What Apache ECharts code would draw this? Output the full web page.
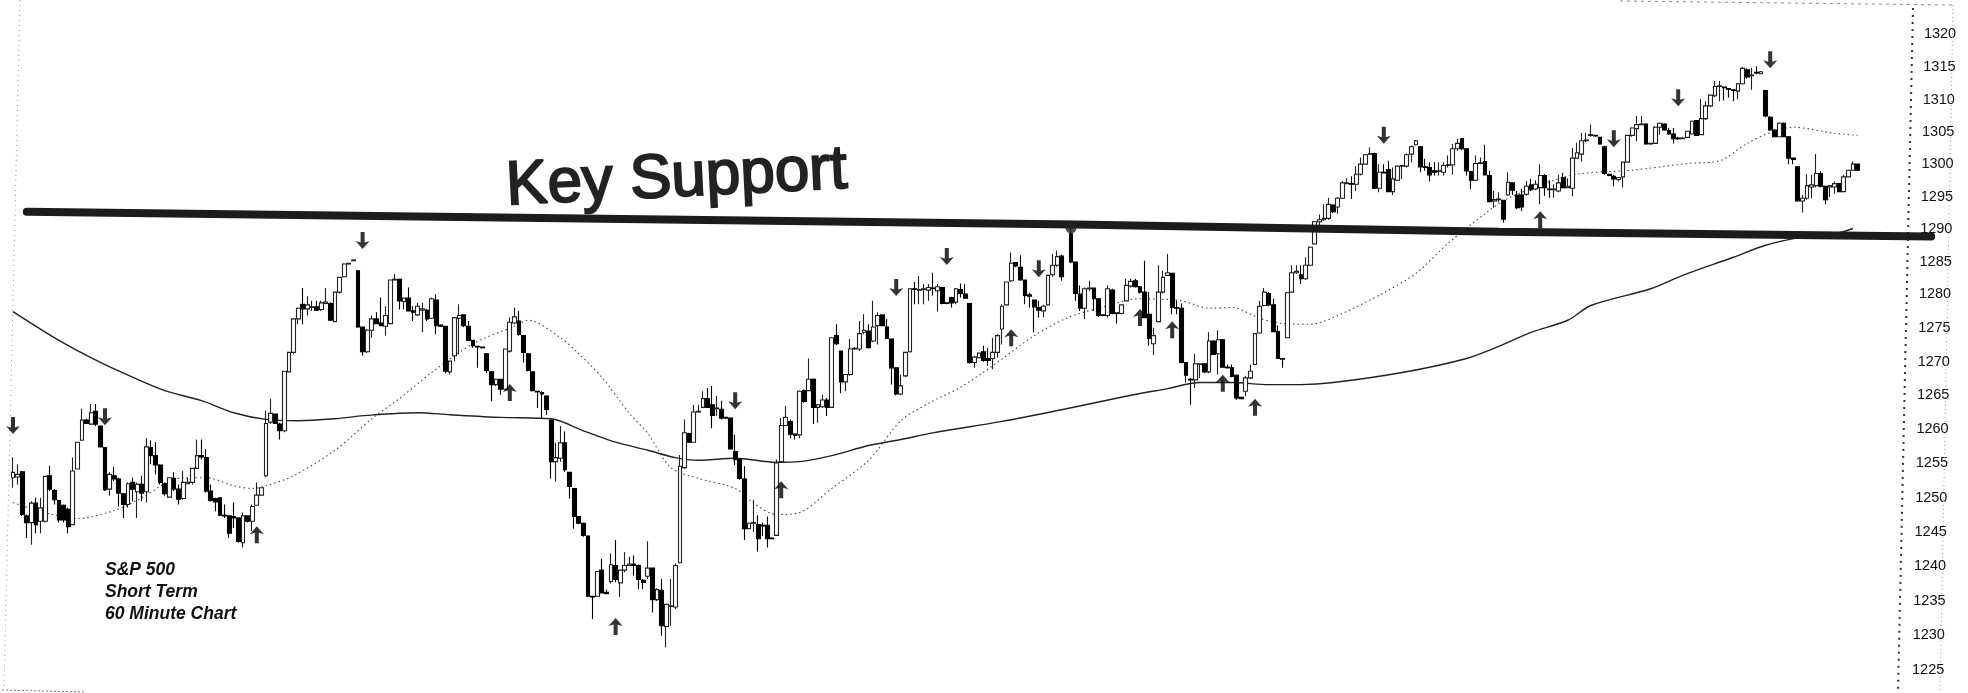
<!DOCTYPE html>
<html><head><meta charset="utf-8">
<style>html,body{margin:0;padding:0;background:#fff}#c{width:1968px;height:693px}</style>
<script src="https://cdn.jsdelivr.net/npm/echarts@6/dist/echarts.min.js"></script>
</head><body><div id="c"></div>
<script>
const opens=[1253.7,1253.8,1254.6,1248,1247,1249.9,1247.2,1247.2,1254,1251.8,
1250.3,1249.6,1249,1246.7,1255,1259.3,1262.3,1261.7,1263.6,1261.4,
1258.2,1252,1254,1253.5,1251.3,1249.7,1253,1251.6,1252.7,1251.6,
1258.2,1257,1255.6,1252.8,1250.8,1253.6,1252,1250.6,1252.8,1253,
1255.1,1257,1256.7,1251.7,1250.6,1250.7,1248.1,1248,1247.9,1247.7,
1244,1248,1247.2,1249.6,1251.1,1254,1262,1263.2,1261.7,1260.7,
1269.5,1272.4,1277.4,1279.6,1278.9,1279.1,1279.2,1278.8,1279.7,1279.7,
1277,1281.4,1283.7,1285.6,1286.1,1284.6,1276.2,1272.5,1275.7,1277.4,
1276.8,1276.3,1276.7,1283.2,1283.3,1280,1280.5,1278.6,1278,1278.7,
1278.7,1277.5,1280.2,1276.5,1276.3,1269.5,1271.9,1277.5,1278,1276.3,
1274.2,1273.3,1273.2,1272.2,1269.5,1267.6,1268.4,1266.9,1272.6,1276.8,
1277.1,1274.9,1272.2,1269.5,1266.6,1266.4,1265.9,1262.3,1256.1,1256.6,
1258.9,1254.5,1252.1,1247.9,1246.9,1245,1236,1236,1239.9,1236.6,
1238.2,1240.6,1238,1239.9,1240.6,1240.8,1240.6,1238.4,1239,1240.2,
1235.5,1236.9,1231.5,1234.5,1234.4,1241,1255.2,1260.3,1259,1263.5,
1264.2,1265.5,1264.6,1264,1263.9,1262.7,1262.6,1257.6,1256.4,1253.5,
1246.1,1246.9,1246.7,1246.6,1246.6,1244.7,1245.1,1256.1,1261.5,1262.1,
1260.2,1260.1,1266.7,1266.7,1268.4,1264.2,1264.3,1265.3,1264.2,1274.9,
1272.6,1268,1269.1,1272.9,1272.9,1275.4,1275.6,1274.1,1276.4,1278,
1276.2,1274.4,1270.1,1266.2,1268.9,1272.5,1281.9,1281.7,1281.8,1281.7,
1282,1281.6,1282.1,1279.8,1280.6,1279.9,1281.8,1281.1,1279.7,1270.9,
1271.6,1272.5,1271.5,1271.5,1272.4,1275.9,1279.5,1283.1,1285.8,1285.1,
1283.2,1281,1280.2,1279.1,1278.6,1279.5,1284,1285.4,1286.8,null,
1290.1,1285.9,1281.1,1279,1281.9,1282,1280.4,1278,1277.9,1281.7,
1278.3,1278.2,1280.1,1282.3,1283.1,1282.2,1281.4,1278.1,1273.7,1277,
1281.4,1283.9,1284.2,1279.1,1279,1270.9,1268.4,1268.3,1270.6,1270.7,
1269.5,1274.1,1272.2,1274.3,1270.2,1270.1,1269,1265.7,1266.6,1268.6,
1270.6,1275.3,1279.4,1281.2,1279.5,1275.5,1271.5,1274.6,1281.4,1284.3,
1284,1283.4,1285.4,1288.6,1291.9,1292.2,1292.4,1294.4,1294.1,1295.4,
1297.6,1297.6,1297.5,1299,1300.5,1302,1302.1,1296.9,1299.3,1299.7,
1296.4,1298.1,1300.2,1300.2,1302,1303.4,1303.1,1300.1,1300,1299.5,
1299.4,1299.3,1300.3,1300.4,1302.8,1304.3,1302.8,1299.4,1298.1,1300.6,
1300.9,1298.8,1295,1295.2,1295.1,1295.9,1297.7,1295.9,1295.9,1296,
1297.4,1296.8,1297,1298.8,1296.8,1296.7,1296.5,1298.5,1297,1296.9,
1301.4,1302,1304,1304.8,1304.8,1304.5,1303.1,1299,1298.7,1298.2,
1298.6,1300.8,1304.8,1305.8,1306.4,1306.5,1303.5,1303.6,1306,1306.5,
1305.5,1305,1304.4,1304.3,1304.5,1305,1307,1304.9,1307.3,1309.2,
1310.7,1312.1,1312,1311.8,1311.6,1311.4,1312.5,1314.6,1313.7,1314.2,
1314,1311.5,1307.5,1305.6,1304.6,1306.6,1304.6,1301.4,1300.1,1295,
1295.4,1297.1,1297.3,1299.1,1297.2,1297.1,1297.1,1297.6,1296.4,1298.6,
1299.6,1300.5];
const closes=[1254.5,1254.2,1248.2,1247,1249.9,1246.7,1249.2,1253.9,1252,1250.4,
1247.4,1247.4,1246.4,1254.7,1259,1262.3,1261.8,1263.4,1261.7,1258.3,
1251.9,1254.2,1253.5,1251.4,1249.7,1252.8,1252,1252.7,1251.4,1258.3,
1257,1255.6,1253,1251.3,1253.7,1252,1250.5,1253,1253,1255.1,
1257,1256.8,1251.7,1250.3,1250.1,1248.1,1248,1245.4,1247.7,1244.2,
1248,1247.2,1249.4,1251.1,1252.2,1261.8,1263.3,1261.8,1260.7,1269.6,
1272.4,1277.4,1279,1278.9,1279.5,1279.2,1278.7,1279.8,1279.9,1277.2,
1281.4,1283.6,1285.6,1285.7,1286.2,1276.2,1272.5,1275.7,1277.4,1276.7,
1276.4,1277.9,1283.2,1283.3,1280.1,1280.5,1278.6,1278.4,1279.3,1278.9,
1277.4,1280.4,1276.4,1276.3,1269.6,1271.1,1277.6,1277.9,1276.4,1274.2,
1273.4,1273.2,1273.1,1269.7,1267.6,1268.4,1266.9,1272.9,1276.9,1277.7,
1275.1,1272.4,1269.7,1266.7,1266.5,1266.2,1263.9,1256.1,1256.7,1258.9,
1254.9,1252.4,1247.9,1246.9,1245.1,1236,1235.9,1239.7,1236.5,1236.4,
1240.7,1238.5,1239.9,1240.6,1240.8,1240.6,1238.5,1238.1,1240.2,1235.5,
1237,1231.6,1234.8,1234.6,1240.6,1255.4,1260.4,1259,1263.5,1263.6,
1265.5,1264.2,1263,1264.1,1262.6,1262.6,1258,1256.4,1253.6,1246.1,
1246.9,1247,1244.6,1246.5,1244.6,1244.6,1255.9,1261.5,1262.7,1260.2,
1260,1266.6,1265.1,1268.4,1264.2,1264.6,1265.3,1264.2,1274.6,1273.7,
1268,1269.1,1272.9,1273,1275.2,1275.7,1273.1,1276.2,1277.9,1276.4,
1274.5,1270.1,1266.2,1267.4,1272.4,1281.9,1281.8,1281.8,1281.9,1282.1,
1281.9,1282.2,1279.7,1279.7,1279.8,1281.9,1281.2,1280.5,1270.9,1271.7,
1272.3,1271.2,1271.2,1272.4,1274.9,1279.3,1282.9,1285.7,1285.3,1283.2,
1280.9,1280.8,1279.2,1278.7,1279.3,1283.9,1285.4,1286.7,1283.7,null,
1285.9,1281.2,1279,1281.9,1282,1280.4,1277.9,1277.9,1281.9,1278.2,
1278.2,1279.5,1282.4,1283,1282.2,1281.4,1277.6,1274.5,1274.9,1281.4,
1283.6,1284.3,1279.1,1279,1270.9,1269,1268.3,1270.7,1270.7,1269.5,
1274.1,1272.1,1274.3,1270.2,1270.1,1268.8,1265.6,1265.5,1268.6,1269.6,
1275.2,1279.3,1281.4,1279.5,1275.5,1271.5,1271.4,1281.3,1284.3,1284.5,
1283.4,1285.4,1288.1,1291.9,1292.2,1292.4,1294.5,1293.4,1295.4,1297.7,
1297.7,1297.5,1299,1300.5,1301.9,1302.1,1296.9,1299.3,1299.2,1296.4,
1298.3,1300.2,1300.3,1301.9,1303.1,1304,1300.1,1300,1298.9,1299.3,
1299.5,1300.3,1300.4,1302.8,1303.6,1302.8,1299.5,1298.1,1300.6,1300.7,
1298.9,1294.9,1295.2,1295.3,1292.3,1297.8,1296.6,1294,1294.1,1297.2,
1296.7,1297.5,1298.8,1297,1296.7,1296.8,1297.7,1297,1297.2,1301.4,
1302.2,1304,1304.1,1304.9,1304.7,1303.5,1299.1,1298.8,1298.3,1298.5,
1300.8,1304.8,1305.9,1306.4,1306.5,1303.5,1303.6,1306,1306.6,1305.6,
1305,1304.3,1304.3,1304.4,1305.4,1306.9,1304.8,1307.3,1309.2,1310.8,
1312.1,1312.2,1311.9,1311.7,1311.5,1312.5,1314.8,1313.5,1313.8,1314.1,
1314.3,1307.7,1305.6,1304.6,1306.6,1304.6,1301.4,1301.2,1295,1295.4,
1297.3,1297.4,1299.1,1297.2,1295.2,1297.3,1297.6,1296.4,1298.6,1299.6,
1300.5,1299.6];
const lows=[1252.2,1252.7,1248,1244.7,1243.7,1245.4,1245.4,1247,1251.7,1249.7,
1247,1247,1245.4,1246.7,1255,1259.2,1261.7,1261.7,1261.4,1258.2,
1251.7,1251,1253.2,1249.4,1247.7,1249.2,1250.2,1247.7,1250.2,1250,
1255.7,1254.2,1252.7,1251,1250.7,1251.7,1249.7,1250.4,1252.7,1252.7,
1255,1256.4,1251.5,1250.1,1248.7,1248,1247.7,1244.7,1246.2,1244,
1243.3,1247,1245.7,1249.5,1251,1253.8,1261.7,1261.7,1259.4,1260.5,
1269.4,1272.2,1276.6,1276.6,1277.9,1278.6,1278.6,1278.6,1279.6,1277.1,
1277,1281.2,1283.6,1285.5,1286,1276.1,1271.9,1272.3,1274.6,1276.6,
1276.3,1274.9,1276.6,1283.1,1278.8,1278.8,1278.5,1277.1,1277.8,1275.4,
1277.1,1277.4,1275.1,1276.2,1269.3,1269.1,1271.1,1272.1,1276.2,1274.1,
1273.1,1270.1,1273,1269.3,1265.1,1267.4,1266.1,1266.9,1272.4,1276.6,
1274.9,1270.9,1269.6,1266.6,1264.1,1262.6,1263.1,1253.6,1253.1,1256.1,
1254.6,1250.6,1246.1,1246.8,1244.9,1235.9,1232.6,1235.9,1236.4,1236.3,
1237.9,1238.1,1235.9,1239.6,1240.5,1239.1,1237.1,1237.1,1238.6,1233.6,
1235.3,1230.1,1228.4,1231.6,1234.1,1240.9,1255,1258.9,1258.9,1263.4,
1264.1,1264.1,1261.1,1262.9,1262.4,1262.5,1257.9,1255.6,1253.4,1244.4,
1246,1245.6,1242.7,1245,1243.3,1244.5,1245,1255.9,1261.4,1259.6,
1259.4,1259.6,1264.9,1266.6,1261.7,1261.9,1264.1,1262.9,1264.1,1273.5,
1266.3,1266.6,1268.9,1272.8,1272.6,1275.1,1273,1273.9,1273.6,1276.3,
1274.4,1267.6,1266,1266,1268.7,1272.4,1279.6,1279.6,1279.6,1280.1,
1280.9,1278.5,1279.6,1279.6,1279.1,1279.6,1280.6,1280.4,1270.7,1270.1,
1271.5,1271,1270.4,1269.9,1271.6,1273.6,1279.4,1282.9,1285.1,1283.1,
1279.6,1279.1,1275.4,1277.6,1277.6,1279.4,1283.7,1285.2,1283.1,null,
1285.7,1280.1,1278.6,1277.4,1281.6,1278.6,1277.7,1277.8,1277.6,1278.1,
1276.7,1278.1,1280,1282.1,1282.1,1281.2,1277.5,1273.4,1272,1276.9,
1281.2,1283.8,1278.1,1278.1,1270.8,1267.9,1264.6,1267.1,1268.6,1269.3,
1269.3,1272,1269.1,1270.1,1270,1268.7,1265.3,1265.4,1265.9,1268.4,
1270.5,1275.2,1279.3,1279.3,1275.4,1271.4,1270.1,1274.5,1281.3,1284.1,
1282.6,1283.2,1285.3,1288.5,1290.3,1292,1292.2,1293.2,1293.1,1295.3,
1297.5,1295.3,1296.5,1298.8,1300.4,1301.9,1296.8,1296.3,1299.1,1296.3,
1295.9,1298,1298.3,1300,1300.8,1303.3,1299.3,1299.5,1297.9,1298.8,
1298.8,1298.8,1300,1298.9,1302.5,1302.6,1298.8,1296.8,1298,1300.5,
1298.8,1294.8,1294,1294.8,1291.8,1295.8,1295.9,1293.8,1293.5,1295.8,
1296.5,1296.6,1294.5,1295.8,1295.5,1295.5,1296.3,1296.9,1296.9,1295.7,
1301.3,1300.9,1303.8,1304.6,1304.6,1303.4,1298.9,1298.7,1297.2,1297.9,
1297,1300.7,1304.6,1303.9,1306.3,1303.4,1303.4,1303.5,1304.9,1305.5,
1304.9,1303.6,1304.1,1304.2,1304.4,1304.9,1304.7,1304.8,1307.1,1309,
1310.5,1309.9,1310,1310.4,1309.9,1310.2,1312.4,1313.3,1311.6,1313.9,
1313.9,1307.5,1305.5,1304.5,1304.5,1304.5,1300.5,1300.5,1294.9,1293.3,
1295.2,1295.4,1297,1297,1294.5,1295.6,1296.1,1296.3,1296.3,1298.5,
1299.5,1299.5];
const highs=[1256.7,1255.7,1254.7,1248.2,1250.2,1250.7,1250.7,1254,1255.5,1252,
1250.4,1249.7,1249.2,1256.7,1259,1264,1262.5,1264.7,1264.7,1261.4,
1258.2,1254.5,1255.3,1253.7,1251.4,1253,1253.7,1253,1254,1259.6,
1259.3,1259,1255.7,1253,1253.7,1254.5,1252.7,1254.7,1253.7,1255.2,
1259.4,1259.4,1258,1252.7,1250.7,1250.7,1249.7,1248.1,1250,1247.8,
1248.5,1248,1249.7,1253,1252.2,1263.7,1265.5,1263.3,1261.9,1269.6,
1272.4,1277.4,1279.1,1282,1280.8,1280.1,1280.1,1280.1,1282,1279.9,
1281.4,1283.7,1285.7,1285.8,1286.3,1284.7,1276.2,1275.9,1277.9,1278.4,
1280.6,1279.3,1283.3,1284.1,1283.4,1280.6,1282.1,1279.3,1279.8,1279.8,
1278.9,1280.6,1281.1,1276.6,1276.3,1271.2,1277.6,1279.6,1278.1,1277.1,
1274.3,1273.3,1273.3,1272.2,1269.5,1268.5,1268.4,1272.9,1277.6,1279.1,
1278.6,1274.9,1272.2,1269.5,1266.6,1266.6,1266,1262.3,1258.9,1261.4,
1260.6,1254.6,1252.1,1247.9,1247,1245.1,1236,1239.8,1241.6,1237,
1242.4,1244.4,1240,1242.6,1241.9,1242.1,1240.8,1238.6,1244.2,1240.3,
1237.2,1238.6,1234.9,1238.6,1240.9,1257.1,1262.4,1260.4,1264.6,1264.6,
1266.6,1267.1,1267.4,1265.9,1265.2,1262.8,1262.6,1260.1,1256.4,1255.4,
1247,1250.4,1248.1,1247,1247.9,1244.8,1256.4,1262.6,1264.4,1262.4,
1260.3,1266.7,1266.9,1271.5,1268.5,1264.7,1266.1,1265.6,1274.6,1276.6,
1272.6,1269.1,1274.4,1273.2,1277.1,1278.1,1276.6,1280.1,1278.4,1278.1,
1277.4,1274.4,1270.2,1269.1,1272.4,1281.9,1282.9,1283.8,1282.6,1282.6,
1284.3,1282.6,1282.2,1279.9,1280.7,1282,1282.7,1282.6,1279.8,1271.9,
1272.4,1273.4,1273.1,1274.6,1275.1,1279.6,1283,1287.3,1285.8,1286.9,
1283.3,1281.3,1280.3,1280.1,1279.5,1284,1287.1,1287.6,1287,null,
1291.4,1285.9,1282.4,1282.1,1283.1,1282.1,1280.5,1278.1,1282.4,1281.9,
1278.4,1279.6,1283.4,1283.4,1283.4,1282.3,1286.1,1281.4,1276.1,1285.4,
1284.6,1287.1,1284.3,1280.1,1279.7,1270.9,1268.6,1272.2,1270.8,1270.8,
1275.4,1274.2,1275.7,1274.4,1270.6,1270.6,1269.1,1265.8,1268.9,1270.6,
1275.3,1280.1,1282,1281.4,1280.4,1276.4,1271.6,1281.4,1285.4,1285.4,
1285.4,1286.6,1288.2,1292,1293,1294.5,1295.5,1294.5,1295.6,1298,
1298.4,1298.7,1300.2,1301.5,1302,1303,1302.2,1300.5,1300.5,1301,
1300,1300.3,1300.3,1302.1,1303.3,1304.1,1303.2,1301.3,1300.8,1300.8,
1300.8,1300.8,1301.8,1303.5,1304.3,1304.4,1302.8,1299.5,1301.8,1301.5,
1303.4,1299.5,1296.5,1296.3,1295.2,1299.3,1297.8,1296.5,1296.8,1298,
1298.3,1298.1,1300.5,1299,1298.1,1297.5,1298.9,1299.2,1298.4,1302.9,
1303.7,1305.2,1305.2,1306.4,1304.9,1304.6,1303.3,1299.1,1298.9,1298.6,
1300.9,1304.9,1306,1307.7,1307.7,1306.6,1303.7,1306.2,1306.7,1306.6,
1305.9,1305.9,1304.6,1304.6,1305.5,1307,1307.1,1310.2,1309.9,1310.9,
1312.9,1312.9,1312,1311.8,1311.6,1312.6,1315,1314.8,1314.9,1315.1,
1314.4,1311.6,1307.7,1305.7,1306.7,1306.7,1304.7,1301.5,1300.2,1295.9,
1299,1298.9,1302,1299.4,1297.3,1297.4,1297.9,1297.7,1298.9,1299.7,
1300.9,1300.6];

const maLongBars=[0,10,19,26,33,41,48,55,62,70,77,88,95,106,117,124,131,138,144,149,157,166,171,178,186,193,200,215,229,243,251,258,265,273,280,287,302,316,323,330,338,343,356,363,374,381,389,396,400];
const maLongValues=[1278.5,1274.2,1270.9,1268.7,1266.7,1265.2,1263.4,1262.4,1262.2,1262.5,1263,1263.4,1263.1,1262.7,1262.5,1260.7,1259,1257.8,1256.7,1256.3,1256.6,1256,1256.1,1257,1258.5,1259.4,1260.4,1262.1,1264,1266,1267,1267.9,1267.9,1267.6,1267.6,1267.9,1269.4,1271.5,1273.3,1275.4,1277.2,1279.4,1281.9,1283.9,1286.6,1288.4,1289.6,1290.1,1290.9];
const maShortBars=[0,14,22,28,33,37,42,48,52,55,61,70,78,84,91,100,109,112,119,123,128,134,138,143,149,157,161,166,171,178,186,193,199,206,213,222,229,236,245,254,260,265,271,276,282,288,298,305,312,320,325,335,341,352,364,371,377,382,387,396,401];
const maShortValues=[1250,1247.6,1248.8,1250.7,1252.8,1253.7,1253.7,1252.5,1252.1,1252.5,1254,1257.8,1262.5,1265.5,1269.4,1273.7,1276.3,1277.2,1274.6,1272.2,1268.7,1263.3,1260.3,1255.2,1253.6,1252.1,1249.9,1248.2,1248.5,1252.1,1256.3,1262.2,1264.8,1267.2,1270.4,1274.9,1277.5,1279,1280.4,1280.1,1279,1279.1,1277.5,1276.7,1276.6,1277.9,1281.3,1284.2,1288.7,1293.1,1295.4,1298.1,1299.1,1299.6,1300.6,1301,1303.6,1305.2,1306,1305.1,1304.8];
const supportBars=[3,231,323,417];
const supportValues=[1293.4,1291.5,1290.4,1289.7];
const touchBars=[230];
const touchValues=[1291];
const downBars=[0,20,76,157,192,203,223,298,348,362,382];
const downValues=[1261.5,1262.8,1289.1,1265.2,1282.1,1286.7,1284.9,1304.8,1304.3,1310.4,1316.1];
const upBars=[53,108,131,167,217,245,252,263,270,332];
const upValues=[1245.2,1266.4,1231.5,1251.9,1274.6,1277.6,1275.8,1267.8,1264.2,1292.2];
const tickLabels=[1225,1230,1235,1240,1245,1250,1255,1260,1265,1270,1275,1280,1285,1290,1295,1300,1305,1310,1315,1320];
const labelLift=[0,2,2.5,4,4.5,5,6.5,7,7.5,7,7.5,8,6.5,6,4.5,4,2.5,1,0,0];
const noteLines=['S&P 500','Short Term','60 Minute Chart'];
const slotCount=420;

const zip=(a,b)=>a.map((v,i)=>[v,b[i]]);
const slots=Array.from({length:slotCount},(_,i)=>String(i));
const candles=opens.map((o,i)=>o===null?['-','-','-','-']:[o,closes[i],lows[i],highs[i]]);
const rich={};
tickLabels.forEach((v,i)=>{rich['t'+v]={fontFamily:'Liberation Sans',fontSize:14.5,color:'#111',
  padding:[0,0,labelLift[i]*2,(v-1225)*0.125]};});
const upArrow='path://M7 0 L14 8 L9 6.5 L9 17 L5 17 L5 6.5 L0 8 Z';
const downArrow='path://M5 0 L9 0 L9 10.5 L14 9 L7 17 L0 9 L5 10.5 Z';
const dots=(x1,y1,x2,y2,dash,col,w)=>({type:'line',silent:true,z:1,shape:{x1,y1,x2,y2},style:{stroke:col,lineWidth:w,lineDash:dash}});

const chart=echarts.init(document.getElementById('c'),null,{renderer:'canvas'});
chart.setOption({
  animation:false,backgroundColor:'#fff',
  grid:{left:10.7,top:0,width:1932,height:670},
  xAxis:{type:'category',data:slots,boundaryGap:true,axisLine:{show:false},axisTick:{show:false},axisLabel:{show:false},splitLine:{show:false}},
  yAxis:{type:'value',position:'right',offset:-36.7,min:1225,max:1325,interval:5,scale:true,
    axisLine:{show:false},axisTick:{show:false},splitLine:{show:false},
    axisLabel:{show:true,margin:6,align:'left',formatter:v=>v===1325?'':`{t${v}|${v}}`,rich}},
  series:[
    {name:'Long average',type:'line',data:zip(maLongBars,maLongValues),showSymbol:false,smooth:0.3,z:2,lineStyle:{color:'#222',width:1.4}},
    {name:'Short average',type:'line',data:zip(maShortBars,maShortValues),showSymbol:false,smooth:0.3,z:2,lineStyle:{color:'#444',width:1.1,type:[1.5,3]}},
    {name:'S&P 500',type:'candlestick',data:candles,barWidth:4.2,z:3,
      itemStyle:{color:'#fff',color0:'#000',borderColor:'#222',borderColor0:'#000',borderWidth:1.1}},
    {name:'Key support',type:'line',data:zip(supportBars,supportValues),showSymbol:false,z:4,lineStyle:{color:'#1c1c1c',width:8,cap:'round'}},
    {name:'Touch',type:'scatter',data:zip(touchBars,touchValues),symbol:'circle',symbolSize:11,z:4,itemStyle:{color:'#222'}},
    {name:'Sell',type:'scatter',data:zip(downBars,downValues),symbol:downArrow,symbolSize:[14,17],z:5,itemStyle:{color:'#000'}},
    {name:'Buy',type:'scatter',data:zip(upBars,upValues),symbol:upArrow,symbolSize:[14,17],z:5,itemStyle:{color:'#000'}}
  ],
  graphic:[
    dots(20,0,4,690,[1,4],'#999',1),
    dots(1953,5,1940,693,[1,3],'#999',1),
    dots(1913,8,1898,693,[2,5],'#333',2),
    dots(2,690,85,692,[2,2],'#777',1),
    dots(1620,1,1953,5,[3,4],'#888',1),
    {type:'text',z:6,x:507,y:148,rotation:0.05,originX:170,originY:50,
      style:{text:'Key Support',fontFamily:'Liberation Sans',fontSize:62,fill:'#222',stroke:'#222',lineWidth:2}},
    ...noteLines.map((t,i)=>({type:'text',z:6,x:105,y:561+i*22,
      style:{text:t,fontFamily:'Liberation Sans',fontWeight:'bold',fontStyle:'italic',fontSize:17.5,fill:'#111'}}))
  ]
});
</script></body></html>
